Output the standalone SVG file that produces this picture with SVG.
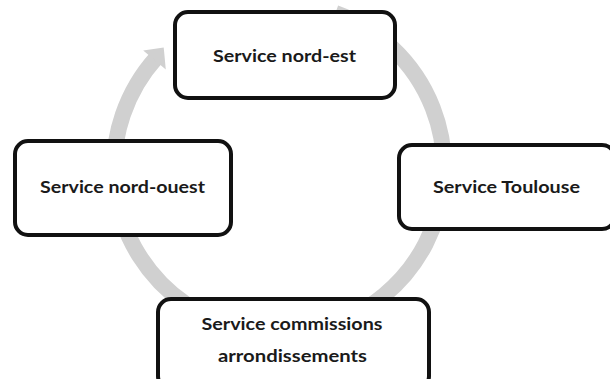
<svg xmlns="http://www.w3.org/2000/svg" width="610" height="379" viewBox="0 0 610 379">
  <style>
    .box { fill: #ffffff; stroke: #111111; stroke-width: 4; }
    .lbl { font-family: Lato, "Open Sans", "Liberation Sans", sans-serif; font-weight: bold; font-size: 17px; fill: #1a1a1a; text-anchor: middle; }
    .ring { fill: none; stroke: #d0d0d0; stroke-width: 16; }
    .head { fill: #d0d0d0; }
  </style>
  <rect width="610" height="379" fill="#ffffff"/>
  <g id="connectors">
    <path class="ring" d="M 335.4 12.9 A 165 165 0 1 1 156.5 57.5"/>
    <polygon class="head" points="163.7,47.5 143.2,50.5 165.8,69.5"/>
  </g>
  <g id="node-nord-est">
    <rect class="box" x="175" y="12" width="220" height="86" rx="13"/>
    <text class="lbl" x="284.5" y="62" textLength="143" lengthAdjust="spacingAndGlyphs">Service nord-est</text>
  </g>
  <g id="node-nord-ouest">
    <rect class="box" x="15" y="141" width="216" height="94" rx="13"/>
    <text class="lbl" x="122.5" y="193" textLength="165" lengthAdjust="spacingAndGlyphs">Service nord-ouest</text>
  </g>
  <g id="node-toulouse">
    <rect class="box" x="399" y="145" width="216" height="84" rx="13"/>
    <text class="lbl" x="506.5" y="193" textLength="147" lengthAdjust="spacingAndGlyphs">Service Toulouse</text>
  </g>
  <g id="node-commissions">
    <rect class="box" x="158" y="299" width="271" height="90" rx="13"/>
    <text class="lbl" x="292" y="330" textLength="181" lengthAdjust="spacingAndGlyphs">Service commissions</text>
    <text class="lbl" x="292.5" y="362" textLength="149" lengthAdjust="spacingAndGlyphs">arrondissements</text>
  </g>
</svg>
